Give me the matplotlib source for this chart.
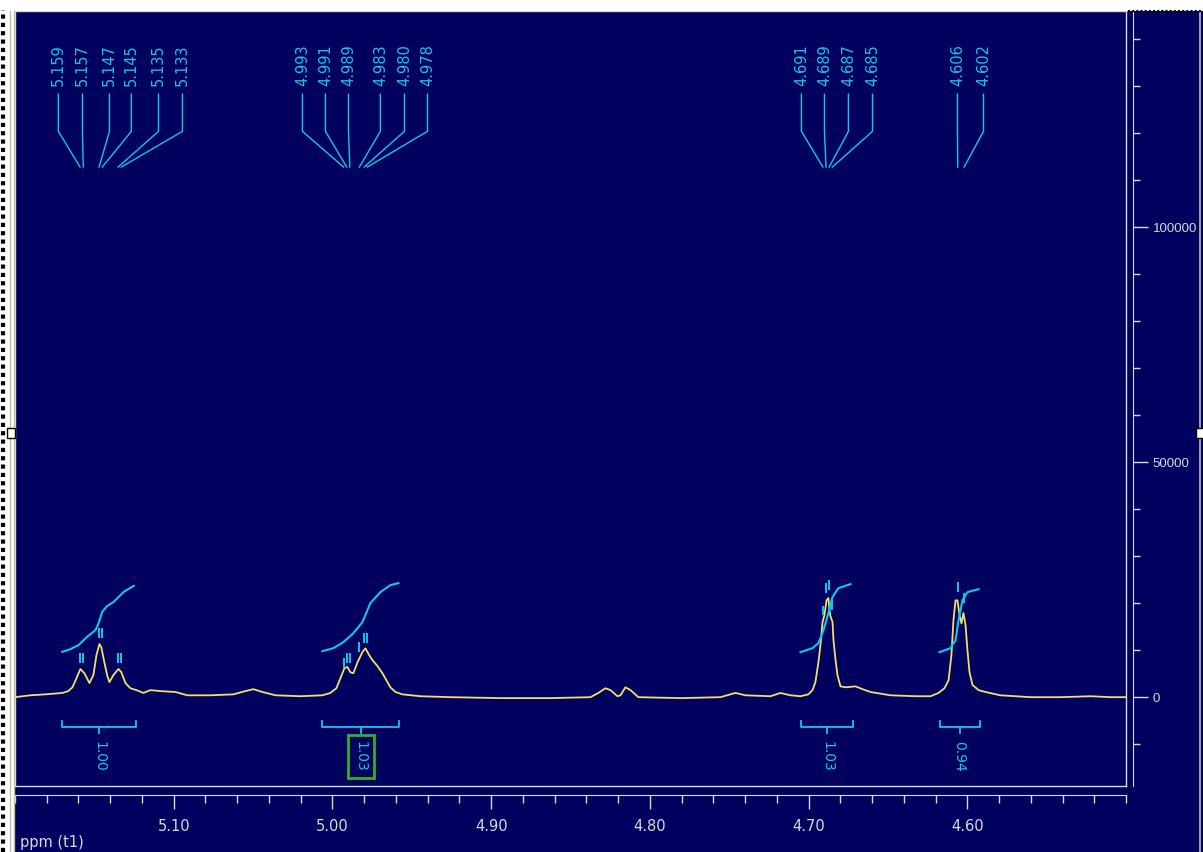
import matplotlib
matplotlib.use('Agg')
import matplotlib.pyplot as plt
from matplotlib.lines import Line2D
from matplotlib.patches import Rectangle
from matplotlib.ticker import MultipleLocator

# spectrum: chemical shift (ppm) and intensity
ppm = [5.1998, 5.1903, 5.1808, 5.1701, 5.1664, 5.1638, 5.1613, 5.1588, 5.1563, 5.1531,
       5.1506, 5.1487, 5.1468, 5.1456, 5.1437, 5.1418, 5.1405, 5.1380, 5.1348, 5.1330,
       5.1304, 5.1273, 5.1235, 5.1191, 5.1147, 5.1084, 5.0989, 5.0914, 5.0769, 5.0624,
       5.0548, 5.0498, 5.0441, 5.0359, 5.0202, 5.0063, 5.0013, 4.9975, 4.9950, 4.9924,
       4.9905, 4.9887, 4.9868, 4.9842, 4.9811, 4.9792, 4.9773, 4.9748, 4.9716, 4.9685,
       4.9660, 4.9635, 4.9603, 4.9559, 4.9446, 4.9256, 4.8941, 4.8626, 4.8374, 4.8324,
       4.8280, 4.8248, 4.8204, 4.8185, 4.8154, 4.8122, 4.8072, 4.7807, 4.7555, 4.7461,
       4.7398, 4.7240, 4.7177, 4.7114, 4.7051, 4.7001, 4.6975, 4.6957, 4.6938, 4.6925,
       4.6912, 4.6900, 4.6887, 4.6875, 4.6868, 4.6862, 4.6849, 4.6843, 4.6830, 4.6818,
       4.6799, 4.6767, 4.6704, 4.6660, 4.6610, 4.6484, 4.6326, 4.6232, 4.6181, 4.6144,
       4.6118, 4.6100, 4.6087, 4.6074, 4.6062, 4.6049, 4.6037, 4.6024, 4.6011, 4.5999,
       4.5986, 4.5967, 4.5929, 4.5885, 4.5791, 4.5602, 4.5413, 4.5224, 4.5098, 4.4997]
intensity = [0, 400, 600, 900, 1300, 2100, 4000, 6000, 5100, 3000,
             4700, 8900, 11300, 10600, 7400, 4500, 3200, 4700, 6000, 5300,
             3000, 1900, 1500, 900, 1500, 1300, 1100, 400, 400, 600,
             1300, 1700, 1100, 400, 200, 400, 900, 1900, 4000, 6200,
             6400, 5300, 5100, 7400, 9600, 10400, 9200, 7900, 6600, 5100,
             3600, 2100, 1100, 600, 200, 0, -200, -200, 0, 900,
             1900, 1500, 200, 400, 2100, 1500, 0, -200, 0, 900,
             400, 200, 900, 400, 200, 600, 1500, 3200, 7400, 11100,
             16000, 17500, 20600, 21100, 18500, 17200, 16000, 12100, 7900, 4700,
             2300, 2100, 2300, 1700, 1100, 400, 200, 200, 900, 1900,
             3600, 8900, 16400, 20600, 20600, 17500, 15700, 17900, 15300, 10000,
             5300, 2600, 1500, 1100, 400, 0, 0, 200, 0, 0]

# picked peaks and the height of their little markers
peaks = [5.159, 5.157, 5.147, 5.145, 5.135, 5.133,
         4.993, 4.991, 4.989, 4.983, 4.980, 4.978,
         4.691, 4.689, 4.687, 4.685, 4.606, 4.602]
peak_mark = [7200, 7200, 12600, 12600, 7200, 7200,
             6200, 7200, 7200, 9600, 11500, 11500,
             17400, 22100, 22800, 18500, 22300, 20000]
# where the peak labels sit along the top
label_at = [5.1727, 5.1575, 5.1405, 5.1267, 5.1096, 5.0945,
            5.0189, 5.0044, 4.9899, 4.9698, 4.9546, 4.9401,
            4.7045, 4.6900, 4.6749, 4.6597, 4.6062, 4.5898]

# integrals: ranges, values and the running integral curves
int_ranges = [(5.1701, 5.1235), (5.0063, 4.9578), (4.7045, 4.6723), (4.6175, 4.5923)]
int_values = ['1.00', '1.03', '1.03', '0.94']
int_x = [
    [5.1702, 5.1651, 5.1600, 5.1546, 5.1493, 5.1473, 5.1451, 5.1420, 5.1378, 5.1315, 5.1252],
    [5.0063, 4.9994, 4.9931, 4.9868, 4.9811, 4.9761, 4.9698, 4.9635, 4.9584],
    [4.7051, 4.6975, 4.6938, 4.6906, 4.6875, 4.6850, 4.6812, 4.6736],
    [4.6175, 4.6106, 4.6074, 4.6055, 4.6030, 4.5999, 4.5929],
]
int_y = [
    [9640, 10214, 11066, 12832, 14258, 15747, 18152, 19365, 20280, 22408, 23685],
    [9789, 10427, 11704, 13619, 15960, 20003, 22344, 23834, 24259],
    [9576, 10427, 11491, 14258, 17875, 21280, 23195, 24046],
    [9576, 10427, 12130, 16386, 20642, 22344, 22982],
]

x_ticks = [5.10, 5.00, 4.90, 4.80, 4.70, 4.60]
x_labels = ['5.10', '5.00', '4.90', '4.80', '4.70', '4.60']
y_ticks = [0, 50000, 100000]
y_labels = ['0', '50000', '100000']

NAVY = '#00005e'
CYAN = '#10c8e8'
YELLOW = '#f2df6a'
AXC = '#d8d8e4'
TAN = '#c8bf98'

W, H = 1203, 852
fig = plt.figure(figsize=(W / 100, H / 100), dpi=100, facecolor=NAVY)

ax = fig.add_axes([15 / W, 1 - 786 / H, (1126 - 15) / W, (786 - 11) / H])
ax.set_facecolor(NAVY)
ax.set_xlim(5.20, 4.50)
ax.set_ylim(-18900, 146000)
ax.set_xticks([])
ax.set_yticks([])
for s in ax.spines.values():
    s.set_color(AXC)
    s.set_linewidth(1)

# spectrum
ax.plot(ppm, intensity, color=YELLOW, lw=1.3, zorder=3)

# peak markers
ax.vlines(peaks, peak_mark, [m + 2100 for m in peak_mark], color=CYAN, lw=1.4, zorder=4)

# peak labels with leader lines
for p, lp in zip(peaks, label_at):
    ax.plot([lp, lp, p], [128300, 120400, 112800], color=CYAN, lw=1)
    ax.text(lp, 130000, f'{p:.3f}', rotation=90, ha='center', va='bottom',
            color=CYAN, fontsize=10.5)

# integral curves
for xs, ys in zip(int_x, int_y):
    ax.plot(xs, ys, color=CYAN, lw=1.5, zorder=4)

# integral brackets and values
for i, ((a, b), v) in enumerate(zip(int_ranges, int_values)):
    m = (a + b) / 2
    ax.plot([a, a, b, b], [-5100, -6400, -6400, -5100], color=CYAN, lw=1.3)
    ax.plot([m, m], [-6400, -7700], color=CYAN, lw=1.3)
    box = None
    if i == 1:
        box = dict(boxstyle='square,pad=0.45', fc='none', ec='#2fb02f', lw=2)
    ax.text(m, -9400, v, rotation=-90, ha='center', va='top', color=CYAN,
            fontsize=10, bbox=box)

# x scale below the box
sx = ax.secondary_xaxis(-9 / 775)
sx.set_xticks(x_ticks, labels=x_labels)
sx.xaxis.set_minor_locator(MultipleLocator(0.02))
sx.tick_params(which='major', direction='out', length=10, width=1, color=AXC,
               labelcolor=AXC, labelsize=10.5, pad=7)
sx.tick_params(which='minor', direction='out', length=5.5, width=1, color=AXC)
sx.spines['bottom'].set_color(AXC)

# intensity scale on the right
sy = ax.secondary_yaxis(1 + 7 / 1111)
sy.set_yticks(y_ticks, labels=y_labels, fontfamily='Liberation Sans')
sy.yaxis.set_minor_locator(MultipleLocator(10000))
sy.tick_params(which='major', direction='out', length=10.8, width=1, color=AXC,
               labelcolor=AXC, labelsize=9.5, pad=3.5)
sy.tick_params(which='minor', direction='out', length=5, width=1, color=AXC)
sy.spines['right'].set_color(AXC)

fig.text(20 / W, 1 - 843 / H, 'ppm (t1)', color=AXC, fontsize=10.5, va='center', ha='left')

# window frame bits
tf = fig.transFigure
fig.add_artist(Rectangle((0, 1 - 11 / H), 1, 11 / H, transform=tf, fc='white', ec='none', zorder=6))
fig.add_artist(Rectangle((0, 0), 14 / W, 1, transform=tf, fc='white', ec='none', zorder=6))
fig.add_artist(Line2D([1200 / W] * 2, [0, 1 - 11 / H], transform=tf, color=TAN, lw=1.2, zorder=7))
fig.add_artist(Line2D([10 / W] * 2, [0, 1 - 11 / H], transform=tf, color=TAN, lw=1, zorder=7))
fig.add_artist(Line2D([13.5 / W] * 2, [0, 1 - 11 / H], transform=tf, color=TAN, lw=1, zorder=7))
fig.add_artist(Line2D([2.5 / W] * 2, [0, 1 - 10 / H], transform=tf, color='black', lw=3,
                      dashes=(1, 1), zorder=7))
fig.add_artist(Line2D([1128 / W, 1], [1 - 10.5 / H] * 2, transform=tf, color='black', lw=1.5,
                      dashes=(1, 1), zorder=7))
for hx in (7, 1196):
    fig.add_artist(Rectangle((hx / W, 1 - 438 / H), 8 / W, 10 / H, transform=tf,
                             fc='white', ec='black', lw=1, zorder=8))

fig.savefig('out.png', dpi=100, facecolor=NAVY)
